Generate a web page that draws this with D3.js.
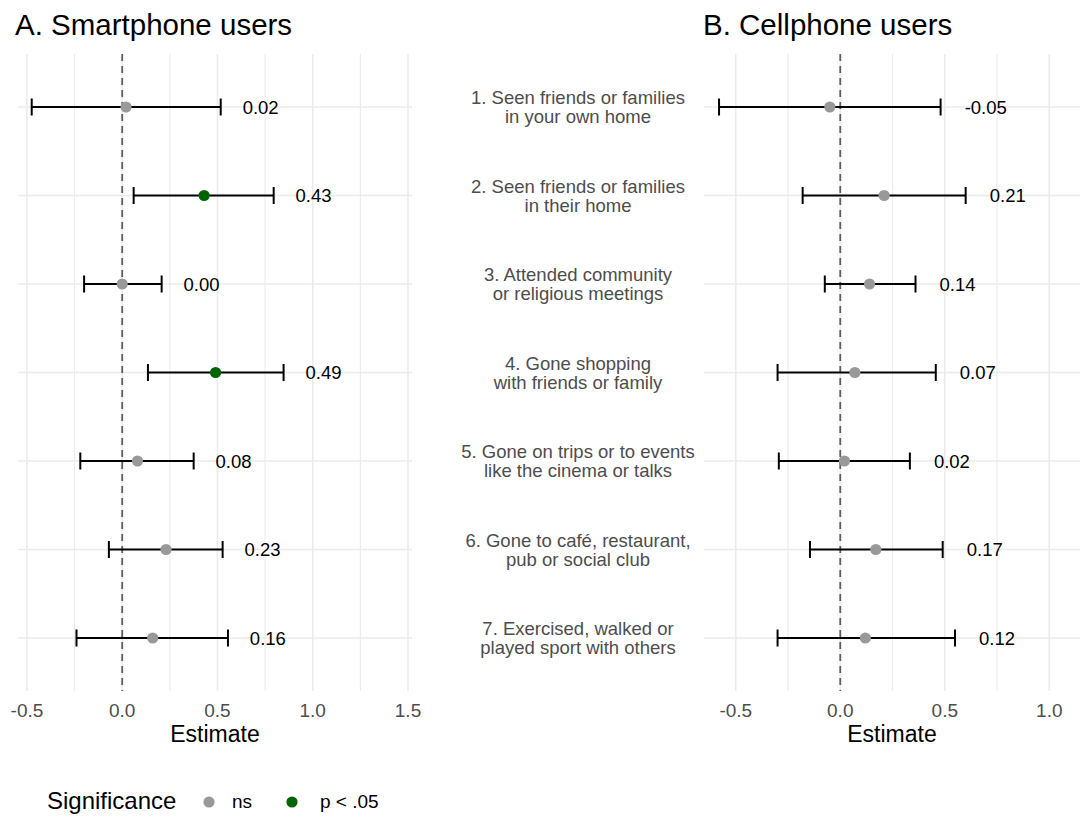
<!DOCTYPE html>
<html>
<head>
<meta charset="utf-8">
<script src="https://cdn.jsdelivr.net/npm/d3@7"></script>
<style>
  html, body { margin: 0; padding: 0; background: #ffffff; }
  svg { display: block; font-family: "Liberation Sans", Arial, Helvetica, sans-serif; }
</style>
</head>
<body>
<svg id="chart" width="1090" height="816"></svg>
<script>
// ---------------- data ----------------
const categories = [
  ["1. Seen friends or families", "in your own home"],
  ["2. Seen friends or families", "in their home"],
  ["3. Attended community", "or religious meetings"],
  ["4. Gone shopping", "with friends or family"],
  ["5. Gone on trips or to events", "like the cinema or talks"],
  ["6. Gone to café, restaurant,", "pub or social club"],
  ["7. Exercised, walked or", "played sport with others"]
];
const smartEstimate = [0.02, 0.43, 0.00, 0.49, 0.08, 0.23, 0.16];
const smartLower    = [-0.475, 0.06, -0.20, 0.135, -0.22, -0.07, -0.24];
const smartUpper    = [0.517, 0.795, 0.207, 0.847, 0.375, 0.527, 0.555];
const smartSig      = ["ns", "p < .05", "ns", "p < .05", "ns", "ns", "ns"];

const cellEstimate = [-0.05, 0.21, 0.14, 0.07, 0.02, 0.17, 0.12];
const cellLower    = [-0.58, -0.18, -0.074, -0.30, -0.294, -0.145, -0.30];
const cellUpper    = [0.48, 0.60, 0.36, 0.457, 0.333, 0.49, 0.549];
const cellSig      = ["ns", "ns", "ns", "ns", "ns", "ns", "ns"];

const smartTicks = [-0.5, 0, 0.5, 1.0, 1.5];
const cellTicks  = [-0.5, 0, 0.5, 1.0];
const sigLevels  = ["ns", "p < .05"];
const sigColors  = ["#999999", "#006400"];

// ---------------- layout ----------------
const svg = d3.select("#chart");
const panelTop = 54, panelBottom = 691;
const rowIdx = d3.range(categories.length);
const y = d3.scalePoint().domain(rowIdx).range([107, 638]);
const color = d3.scaleOrdinal().domain(sigLevels).range(sigColors);
const gridCol = "#EBEBEB";
const labelOffset = 0.115;

function drawPanel(opts) {
  const x = d3.scaleLinear().domain(opts.domain).range(opts.range);
  const g = svg.append("g");
  const [x0, x1] = opts.range;

  // minor vertical grid
  const minor = d3.range(Math.ceil(opts.domain[0] * 4) / 4, opts.domain[1], 0.25)
    .filter(v => Math.abs(v * 2 - Math.round(v * 2)) > 1e-6);
  g.selectAll("line.minor").data(minor).join("line")
    .attr("x1", d => x(d)).attr("x2", d => x(d))
    .attr("y1", panelTop).attr("y2", panelBottom)
    .attr("stroke", gridCol).attr("stroke-width", 1.1);
  // major vertical grid
  g.selectAll("line.major").data(opts.ticks).join("line")
    .attr("x1", d => x(d)).attr("x2", d => x(d))
    .attr("y1", panelTop).attr("y2", panelBottom)
    .attr("stroke", gridCol).attr("stroke-width", 1.6);
  // horizontal grid
  g.selectAll("line.hgrid").data(rowIdx).join("line")
    .attr("x1", x0).attr("x2", x1)
    .attr("y1", d => y(d)).attr("y2", d => y(d))
    .attr("stroke", gridCol).attr("stroke-width", 1.6);

  // zero reference line
  g.append("line")
    .attr("x1", x(0)).attr("x2", x(0))
    .attr("y1", panelTop).attr("y2", panelBottom)
    .attr("stroke", "#5e5e5e").attr("stroke-width", 1.8)
    .attr("stroke-dasharray", "7,5");

  // error bars
  const capH = 8.5;
  const sw = 2;
  const eb = g.selectAll("g.eb").data(rowIdx).join("g");
  eb.append("line")
    .attr("x1", i => x(opts.lower[i])).attr("x2", i => x(opts.upper[i]))
    .attr("y1", i => y(i)).attr("y2", i => y(i))
    .attr("stroke", "#000").attr("stroke-width", sw);
  eb.append("line")
    .attr("x1", i => x(opts.lower[i])).attr("x2", i => x(opts.lower[i]))
    .attr("y1", i => y(i) - capH).attr("y2", i => y(i) + capH)
    .attr("stroke", "#000").attr("stroke-width", sw);
  eb.append("line")
    .attr("x1", i => x(opts.upper[i])).attr("x2", i => x(opts.upper[i]))
    .attr("y1", i => y(i) - capH).attr("y2", i => y(i) + capH)
    .attr("stroke", "#000").attr("stroke-width", sw);

  // points
  g.selectAll("circle.pt").data(rowIdx).join("circle")
    .attr("cx", i => x(opts.est[i])).attr("cy", i => y(i))
    .attr("r", 5.6)
    .attr("fill", i => color(opts.sig[i]));

  // value labels
  g.selectAll("text.val").data(rowIdx).join("text")
    .attr("x", i => x(opts.upper[i] + labelOffset))
    .attr("y", i => y(i) + 6.5)
    .attr("font-size", 18.5).attr("fill", "#000")
    .text(i => d3.format(".2f")(opts.est[i]).replace("−", "-"));

  // x axis tick labels
  g.selectAll("text.tick").data(opts.ticks).join("text")
    .attr("x", d => x(d)).attr("y", 717)
    .attr("text-anchor", "middle")
    .attr("font-size", 19).attr("fill", "#4D4D4D")
    .text(d => d3.format(".1f")(d).replace("−", "-"));

  // axis title
  g.append("text")
    .attr("x", (x0 + x1) / 2).attr("y", 742)
    .attr("text-anchor", "middle")
    .attr("font-size", 23).attr("fill", "#000")
    .text("Estimate");

  // panel title
  g.append("text")
    .attr("x", opts.titleX).attr("y", 35)
    .attr("font-size", 29.5).attr("fill", "#000")
    .text(opts.title);
}

drawPanel({
  domain: [-0.547, 1.521], range: [18, 412], ticks: smartTicks,
  est: smartEstimate, lower: smartLower, upper: smartUpper, sig: smartSig,
  title: "A. Smartphone users", titleX: 15
});
drawPanel({
  domain: [-0.652, 1.147], range: [704, 1080], ticks: cellTicks,
  est: cellEstimate, lower: cellLower, upper: cellUpper, sig: cellSig,
  title: "B. Cellphone users", titleX: 703
});

// category labels in the middle
const cat = svg.append("g");
cat.selectAll("text").data(rowIdx).join("text")
  .attr("text-anchor", "middle")
  .attr("font-size", 18.5).attr("fill", "#4D4D4D")
  .each(function(i) {
    const t = d3.select(this);
    t.append("tspan").attr("x", 578).attr("y", y(i) - 9.5 + 6.5).text(categories[i][0]);
    t.append("tspan").attr("x", 578).attr("y", y(i) + 9.5 + 6.5).text(categories[i][1]);
  });

// legend
const leg = svg.append("g");
leg.append("text").attr("x", 47).attr("y", 809)
  .attr("font-size", 24).attr("fill", "#000").text("Significance");
const legDotX = [209, 292];
const legTextX = [232, 320];
sigLevels.forEach((s, k) => {
  leg.append("circle").attr("cx", legDotX[k]).attr("cy", 802).attr("r", 5.6).attr("fill", color(s));
  leg.append("text").attr("x", legTextX[k]).attr("y", 808)
    .attr("font-size", 19).attr("fill", "#000").text(s);
});
</script>
</body>
</html>
